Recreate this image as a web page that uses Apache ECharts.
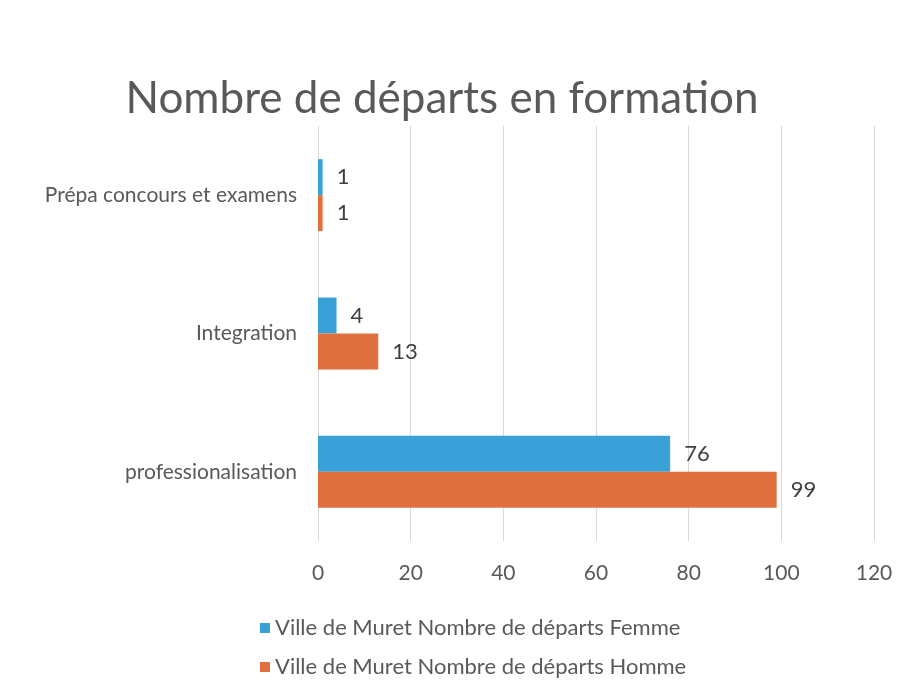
<!DOCTYPE html>
<html><head><meta charset="utf-8">
<script src="https://cdn.jsdelivr.net/npm/echarts@6/dist/echarts.min.js"></script>
<style>html,body{margin:0;padding:0;background:#fff}#c{width:912px;height:697px}</style>
</head><body><div id="c"></div>
<script>
const categories = ['professionalisation', 'Integration', 'Prépa concours et examens'];
const femme = [76, 4, 1];
const homme = [99, 13, 1];
const xTicks = [0, 20, 40, 60, 80, 100, 120];
const seriesNames = ['Ville de Muret Nombre de départs Femme', 'Ville de Muret Nombre de départs Homme'];

const FONT = 'Lato, "Open Sans", sans-serif';
const chart = echarts.init(document.getElementById('c'));
const labelStyle = {show: true, position: 'right', distance: 14, fontSize: 22, color: '#404040', fontFamily: FONT};
chart.setOption({
  backgroundColor: '#fff',
  animation: false,
  title: {
    text: 'Nombre de départs en formation',
    left: 437, top: 72, textAlign: 'center',
    textStyle: {fontSize: 44, fontWeight: 'normal', color: '#595959', fontFamily: FONT}
  },
  legend: {
    data: seriesNames,
    orient: 'vertical', left: 255, top: 612,
    itemWidth: 10, itemHeight: 10, itemGap: 17, icon: 'rect',
    textStyle: {fontSize: 22, color: '#595959', fontFamily: FONT}
  },
  grid: {left: 318, right: 38, top: 126, bottom: 156, containLabel: false},
  xAxis: {
    type: 'value', min: xTicks[0], max: xTicks[xTicks.length - 1], interval: 20,
    axisLine: {show: false}, axisTick: {show: false},
    splitLine: {lineStyle: {color: '#d9d9d9'}},
    axisLabel: {fontSize: 21, color: '#595959', margin: 22, fontFamily: FONT}
  },
  yAxis: {
    type: 'category', data: categories,
    axisLine: {show: false}, axisTick: {show: false},
    axisLabel: {fontSize: 21, color: '#595959', margin: 21, fontFamily: FONT}
  },
  series: [
    {name: seriesNames[0], type: 'bar', data: femme, barGap: '0%', barCategoryGap: '48%',
     itemStyle: {color: '#3aa0d8'}, label: labelStyle},
    {name: seriesNames[1], type: 'bar', data: homme, barGap: '0%', barCategoryGap: '48%',
     itemStyle: {color: '#e0713f'}, label: labelStyle}
  ]
});
</script></body></html>
